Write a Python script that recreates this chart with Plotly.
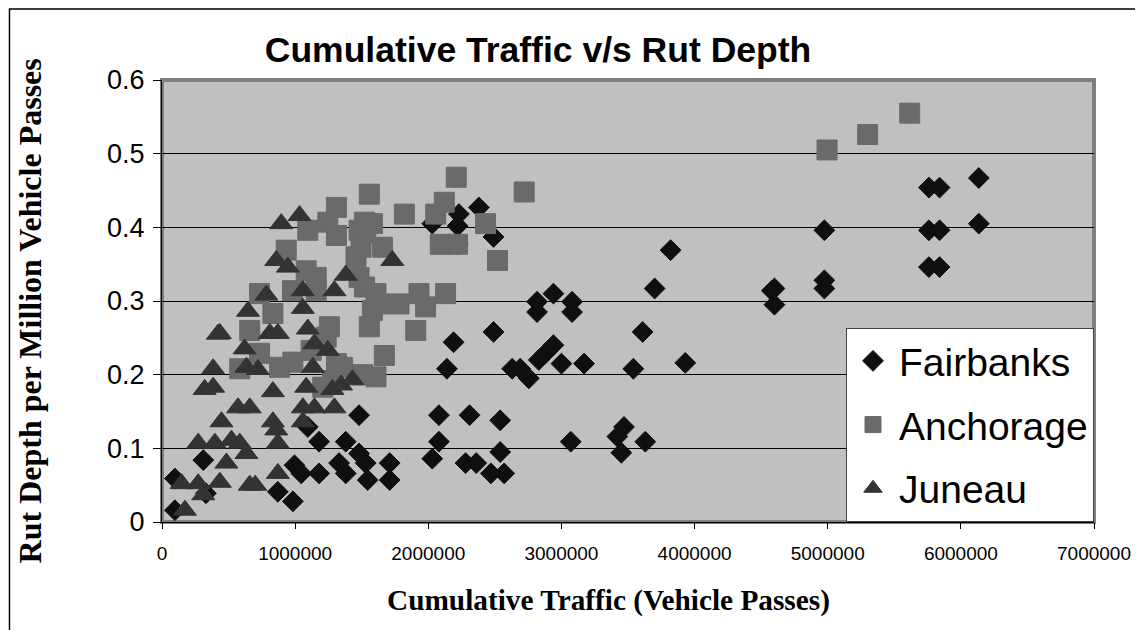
import plotly.graph_objects as go

# ---------------- data ----------------
fairbanks_x = [97000, 97000, 310000, 330000, 870000, 983000, 995000, 1046000, 1095000, 1180000,
               1180000, 1330000, 1380000, 1380000, 1480000, 1480000, 1530000, 1545000, 1710000, 1710000,
               2030000, 2080000, 2080000, 2140000, 2190000, 2030000, 2230000, 2220000, 2380000, 2490000,
               2220000, 2280000, 2360000, 2310000, 2470000, 2570000, 2540000, 2540000, 2490000, 2630000,
               2690000, 2755000, 2830000, 2880000, 2940000, 3000000, 3170000, 2817000, 2817000, 2940000,
               3080000, 3080000, 3070000, 3420000, 3470000, 3450000, 3630000, 3540000, 3610000, 3700000,
               3820000, 3930000, 4580000, 4600000, 4600000, 4975000, 4975000, 4975000, 5760000, 5840000,
               5760000, 5840000, 5760000, 5840000, 6135000, 6135000]
fairbanks_y = [0.059, 0.016, 0.084, 0.039, 0.041, 0.028, 0.077, 0.066, 0.129, 0.109,
               0.066, 0.080, 0.109, 0.066, 0.093, 0.145, 0.080, 0.057, 0.080, 0.057,
               0.086, 0.109, 0.145, 0.208, 0.244, 0.405, 0.418, 0.402, 0.427, 0.387,
               0.377, 0.080, 0.080, 0.145, 0.066, 0.066, 0.095, 0.138, 0.258, 0.208,
               0.208, 0.195, 0.220, 0.229, 0.240, 0.215, 0.215, 0.299, 0.285, 0.310,
               0.299, 0.285, 0.109, 0.116, 0.129, 0.094, 0.109, 0.208, 0.258, 0.317,
               0.369, 0.216, 0.314, 0.317, 0.295, 0.396, 0.328, 0.317, 0.454, 0.454,
               0.396, 0.396, 0.346, 0.346, 0.467, 0.405]

anchorage_x = [584000, 733000, 883000, 983000, 1120000, 1233000, 1257000, 1310000, 1280000, 1207000,
               1357000, 659000, 833000, 733000, 980000, 1083000, 1158000, 1158000, 933000, 1095000,
               1245000, 1310000, 1310000, 1480000, 1580000, 1557000, 1520000, 1530000, 1495000, 1657000,
               1457000, 1480000, 1520000, 1607000, 1630000, 1580000, 1557000, 1670000, 1607000, 1507000,
               1780000, 1930000, 1980000, 2130000, 1906000, 1820000, 2056000, 2120000, 2210000, 2090000,
               2220000, 2430000, 2520000, 2720000, 4995000, 5300000, 5616000]
anchorage_y = [0.208, 0.229, 0.210, 0.217, 0.233, 0.251, 0.265, 0.215, 0.192, 0.183,
               0.210, 0.260, 0.283, 0.310, 0.314, 0.341, 0.332, 0.314, 0.369, 0.396,
               0.407, 0.427, 0.389, 0.396, 0.405, 0.445, 0.407, 0.393, 0.373, 0.373,
               0.360, 0.332, 0.319, 0.310, 0.296, 0.287, 0.265, 0.226, 0.197, 0.200,
               0.296, 0.310, 0.292, 0.310, 0.260, 0.418, 0.418, 0.434, 0.468, 0.377,
               0.377, 0.405, 0.355, 0.448, 0.505, 0.526, 0.555]

juneau_x = [147000, 172000, 272000, 310000, 272000, 397000, 522000, 584000, 634000, 484000,
            434000, 659000, 700000, 870000, 870000, 858000, 833000, 447000, 1058000, 571000,
            659000, 1058000, 1145000, 1295000, 320000, 384000, 833000, 1083000, 1280000, 1345000,
            1430000, 384000, 634000, 720000, 1133000, 620000, 1145000, 1245000, 420000, 434000,
            810000, 870000, 1095000, 646000, 1058000, 784000, 1058000, 1295000, 1380000, 858000,
            945000, 1730000, 896000, 1033000]
juneau_y = [0.052, 0.016, 0.052, 0.037, 0.107, 0.107, 0.111, 0.107, 0.093, 0.080,
            0.054, 0.050, 0.050, 0.066, 0.107, 0.125, 0.136, 0.136, 0.136, 0.155,
            0.155, 0.155, 0.155, 0.155, 0.180, 0.183, 0.177, 0.183, 0.180, 0.186,
            0.193, 0.208, 0.210, 0.207, 0.210, 0.235, 0.242, 0.233, 0.255, 0.256,
            0.256, 0.256, 0.262, 0.286, 0.290, 0.308, 0.314, 0.314, 0.335, 0.355,
            0.346, 0.355, 0.405, 0.416]

x_tick_vals = [0, 1000000, 2000000, 3000000, 4000000, 5000000, 6000000, 7000000]
x_tick_text = ["0", "1000000", "2000000", "3000000", "4000000", "5000000", "6000000", "7000000"]
y_tick_vals = [0, 0.1, 0.2, 0.3, 0.4, 0.5, 0.6]
y_tick_text = ["0", "0.1", "0.2", "0.3", "0.4", "0.5", "0.6"]

# ---------------- figure ----------------
# the page body has a default 8px margin, so the figure is sized to fill the
# remaining window area and all layout pixel positions are given in window
# coordinates minus that offset.
OFF = 8
W, H = 1143 - OFF, 630 - OFF
L, R, T, B = 162 - OFF, 1143 - 1097, 80 - OFF, 630 - 522
pw, ph = W - L - R, H - T - B

SANS = "Liberation Sans, Arial, sans-serif"
SERIF = "Liberation Serif, Times New Roman, serif"


def px_x(p):
    # window pixel -> paper fraction
    return (p - OFF - L) / pw


def px_y(p):
    return (H - B - (p - OFF)) / ph


fig = go.Figure()
fig.add_trace(go.Scatter(x=fairbanks_x, y=fairbanks_y, mode="markers", name="Fairbanks",
                         legendgroup="f",
                         marker=dict(symbol="diamond", size=16, color="#0f0f0f",
                                     line=dict(width=1, color="#0f0f0f"))))
fig.add_trace(go.Scatter(x=anchorage_x, y=anchorage_y, mode="markers", name="Anchorage",
                         legendgroup="a",
                         marker=dict(symbol="square", size=20, color="#6a6a6a",
                                     line=dict(width=1, color="#6a6a6a"))))
fig.add_trace(go.Scatter(x=juneau_x, y=juneau_y, mode="markers", name="Juneau",
                         legendgroup="j",
                         marker=dict(symbol="triangle-up", size=20, color="#333333",
                                     line=dict(width=1, color="#333333"))))

fig.update_layout(
    width=W, height=H,
    margin=dict(l=L, r=R, t=T, b=B),
    paper_bgcolor="white",
    plot_bgcolor="#c0c0c0",
    font=dict(family=SANS, color="black"),
    title=dict(text="<b>Cumulative Traffic v/s Rut Depth</b>",
               font=dict(size=35.5, family=SANS, color="black"),
               x=(538 - OFF) / W, xanchor="center",
               y=1 - (50 - OFF) / H, yanchor="middle", yref="container"),
    showlegend=True,
    legend=dict(x=1, xanchor="right", y=0, yanchor="bottom",
                bgcolor="white", bordercolor="#444444", borderwidth=1,
                font=dict(size=39, family=SANS, color="black"),
                tracegroupgap=10, itemsizing="trace", itemwidth=42),
    xaxis=dict(range=[0, 7000000], tickmode="array", tickvals=x_tick_vals, ticktext=x_tick_text,
               showgrid=False, zeroline=False, showline=True, linecolor="black", linewidth=1,
               ticks="outside", ticklen=6, tickcolor="black", ticklabelstandoff=8,
               tickfont=dict(size=19, family=SANS)),
    yaxis=dict(range=[0, 0.6], tickmode="array", tickvals=y_tick_vals, ticktext=y_tick_text,
               showgrid=True, gridcolor="black", gridwidth=1, zeroline=False,
               showline=True, linecolor="black", linewidth=1,
               ticks="outside", ticklen=8, tickcolor="black", ticklabelstandoff=3,
               tickfont=dict(size=27, family=SANS)),
    shapes=[
        dict(type="rect", xref="paper", yref="paper", x0=0, x1=1, y0=0, y1=1,
             line=dict(color="#808080", width=4), layer="below"),
        dict(type="rect", xref="paper", yref="paper",
             x0=px_x(OFF + 1), x1=px_x(1141), y0=px_y(640), y1=px_y(OFF + 1),
             line=dict(color="black", width=1.5), layer="above"),
    ],
    annotations=[
        dict(text="<b>Cumulative Traffic (Vehicle Passes)</b>", xref="paper", yref="paper",
             x=px_x(610), y=px_y(600), xanchor="center", yanchor="middle", showarrow=False,
             font=dict(size=29.3, family=SERIF, color="black")),
        dict(text="<b>Rut Depth per Million Vehicle Passes</b>", xref="paper", yref="paper",
             x=px_x(30), y=px_y(311), xanchor="center", yanchor="middle", showarrow=False,
             textangle=-90,
             font=dict(size=32, family=SERIF, color="black")),
    ],
)

fig.write_html("out.html")
